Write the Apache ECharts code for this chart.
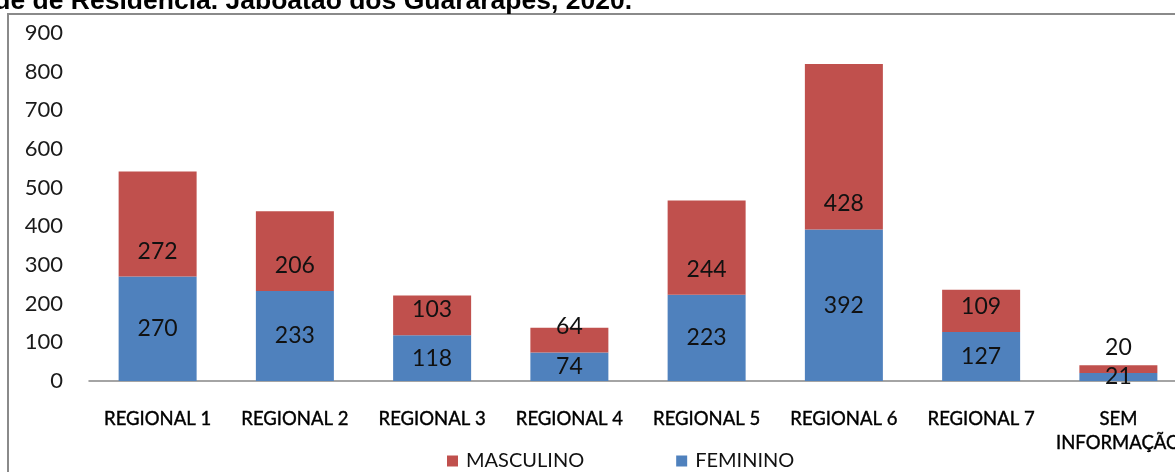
<!DOCTYPE html>
<html>
<head>
<meta charset="utf-8">
<script src="https://cdn.jsdelivr.net/npm/echarts@6/dist/echarts.min.js"></script>
<style>
  html, body { margin: 0; padding: 0; width: 1175px; height: 472px; overflow: hidden; background: #fff; }
  #chart { position: absolute; left: 0; top: 0; width: 1200px; height: 472px; }
</style>
</head>
<body>
<div id="chart"></div>
<script>
"use strict";
// dados
const titleText = "dade de Residência. Jaboatão dos Guararapes, 2020.";
const categories = ["REGIONAL 1", "REGIONAL 2", "REGIONAL 3", "REGIONAL 4", "REGIONAL 5", "REGIONAL 6", "REGIONAL 7", "SEM\nINFORMAÇÃO"];
const feminino = [270, 233, 118, 74, 223, 392, 127, 21];
const masculino = [272, 206, 103, 64, 244, 428, 109, 20];
const yTicks = [0, 100, 200, 300, 400, 500, 600, 700, 800, 900];

const FONT = "Lato";
const chart = echarts.init(document.getElementById("chart"), null, { renderer: "canvas" });
chart.setOption({
    animation: false,
    backgroundColor: "#fff",
    graphic: [
        {
            type: "rect",
            z: -10,
            shape: { x: 8, y: 14, width: 1400, height: 700 },
            style: { fill: "none", stroke: "#8a8a8a", lineWidth: 2 },
        },
        {
            type: "text",
            z: 10,
            style: {
                text: titleText,
                x: 632,
                y: 2,
                align: "right",
                verticalAlign: "middle",
                font: "bold 26.5px 'Liberation Sans', Arial, sans-serif",
                fill: "#000",
            },
        },
    ],
    grid: { left: 89, right: 13, top: 33, bottom: 91, containLabel: false },
    legend: {
        data: ["MASCULINO", "FEMININO"],
        left: 442,
        top: 446,
        icon: "rect",
        itemWidth: 11,
        itemHeight: 11,
        itemGap: 92,
        textStyle: { fontFamily: FONT, fontSize: 20, color: "#111", padding: [0, 0, 0, 3] },
    },
    xAxis: {
        type: "category",
        data: categories,
        axisLine: { lineStyle: { color: "#878787", width: 1.5 } },
        axisTick: { show: false },
        axisLabel: {
            interval: 0, margin: 26, fontFamily: FONT, fontSize: 18.5, lineHeight: 24, color: "#000",
            textBorderColor: "#000", textBorderWidth: 0.4,
        },
    },
    yAxis: {
        type: "value",
        min: yTicks[0],
        max: yTicks[yTicks.length - 1],
        interval: 100,
        axisLine: { show: false },
        axisTick: { show: false },
        splitLine: { show: false },
        axisLabel: { margin: 26, fontFamily: FONT, fontSize: 22, color: "#1a1a1a" },
    },
    series: [
        {
            name: "FEMININO",
            type: "bar",
            stack: "total",
            barWidth: 78,
            data: feminino,
            itemStyle: { color: "#4F81BD" },
            label: { show: true, position: "inside", fontFamily: FONT, fontSize: 23, color: "#111" },
        },
        {
            name: "MASCULINO",
            type: "bar",
            stack: "total",
            barWidth: 78,
            data: masculino,
            itemStyle: { color: "#C0504D" },
            label: { show: true, position: "insideBottom", distance: 14, fontFamily: FONT, fontSize: 23, color: "#111" },
        },
    ],
});
</script>
</body>
</html>
